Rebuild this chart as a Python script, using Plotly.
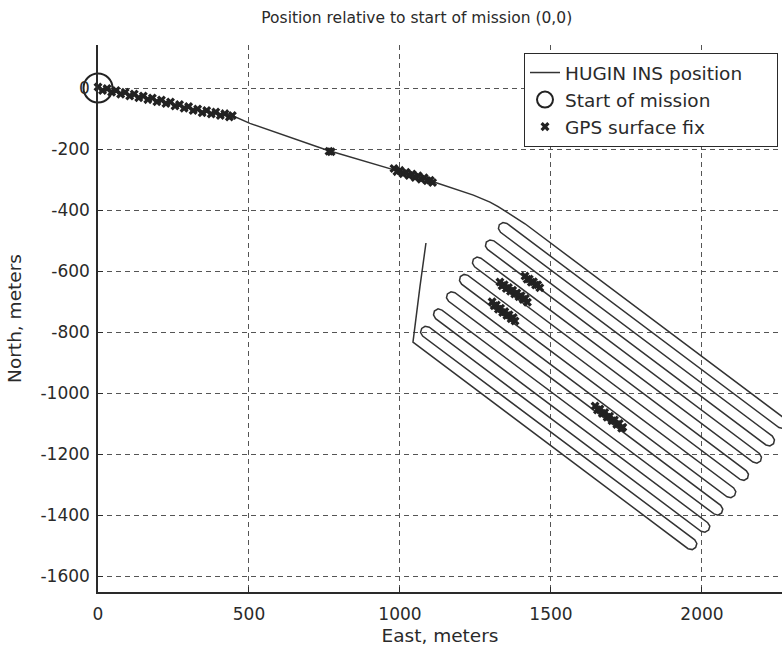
import plotly.graph_objects as go

# ---------------- data (metres) ----------------
title_text = "Position relative to start of mission (0,0)"
x_title = "East, meters"
y_title = "North, meters"

x_ticks = [0, 500, 1000, 1500, 2000]
y_ticks = [0, -200, -400, -600, -800, -1000, -1200, -1400, -1600]

# HUGIN INS track: transit leg, lawn-mower survey lines (with turn points), final leg north
ins_east = [0, 110, 220, 338, 448, 503, 757, 1000, 1110, 1243, 1275, 1298, 1325, 1354, 1385, 1414,
            2276, 2283, 2280, 2268, 2255,
            1354, 1341, 1329, 1326, 1333,
            2233, 2240, 2237, 2225, 2212,
            1311, 1298, 1286, 1283, 1290,
            2190, 2197, 2194, 2182, 2169,
            1268, 1255, 1243, 1240, 1247,
            2147, 2154, 2151, 2139, 2126,
            1225, 1212, 1200, 1197, 1204,
            2105, 2112, 2108, 2096, 2083,
            1182, 1169, 1157, 1154, 1161,
            2062, 2069, 2065, 2053, 2040,
            1139, 1126, 1114, 1111, 1118,
            2019, 2026, 2022, 2010, 1997,
            1097, 1083, 1072, 1068, 1075,
            1976, 1983, 1979, 1968, 1954,
            1043, 1066, 1079, 1086]
ins_north = [0, -22, -45, -75, -92, -116, -203, -274, -307, -351, -363, -374, -389, -407, -427, -445,
             -1085, -1096, -1109, -1116, -1113,
             -444, -441, -448, -461, -473,
             -1141, -1153, -1166, -1173, -1170,
             -501, -498, -505, -518, -529,
             -1198, -1210, -1223, -1230, -1226,
             -558, -554, -561, -574, -586,
             -1255, -1266, -1279, -1286, -1283,
             -614, -611, -618, -631, -643,
             -1311, -1323, -1336, -1343, -1340,
             -671, -668, -675, -688, -699,
             -1368, -1380, -1393, -1400, -1396,
             -728, -724, -731, -744, -756,
             -1425, -1436, -1449, -1456, -1453,
             -784, -781, -788, -801, -813,
             -1481, -1493, -1506, -1513, -1510,
             -833, -652, -564, -508]

start_east = [0]
start_north = [0]

# GPS surface fixes
gps_east = [0, 15, 30, 45, 60, 75, 90, 105, 120, 135, 150, 165, 180, 195, 210, 225,
            240, 255, 270, 285, 300, 315, 330, 345, 360, 375, 390, 405, 420, 435, 445,
            765, 772,
            980, 990, 1000, 1010, 1020, 1030, 1040, 1050, 1060, 1070, 1080, 1090, 1100, 1108,
            1414, 1421, 1428, 1435, 1442, 1449, 1456, 1463,
            1331, 1338, 1345, 1352, 1359, 1366, 1373, 1380, 1387, 1394, 1401, 1408, 1415, 1422,
            1305, 1312, 1319, 1326, 1333, 1340, 1347, 1354, 1361, 1368, 1375, 1381,
            1646, 1654, 1662, 1670, 1678, 1686, 1694, 1702, 1710, 1718, 1726, 1734, 1738]
gps_north = [3, -8, -2, -14, -8, -20, -14, -26, -20, -32, -26, -38, -33, -45, -39, -51,
             -46, -59, -54, -66, -61, -74, -69, -81, -74, -85, -79, -90, -84, -95, -90,
             -207, -209,
             -264, -274, -270, -281, -276, -287, -282, -293, -288, -299, -294, -304, -302, -310,
             -616, -627, -626, -637, -635, -646, -645, -655,
             -636, -648, -645, -657, -654, -666, -663, -675, -672, -684, -681, -693, -690, -702,
             -701, -714, -711, -725, -722, -736, -733, -746, -743, -756, -752, -764,
             -1042, -1055, -1052, -1067, -1064, -1079, -1076, -1091, -1088, -1103, -1100, -1115, -1112]

legend_names = ["HUGIN INS position", "Start of mission", "GPS surface fix"]

# ---------------- figure ----------------
FONT = "DejaVu Sans"
INK = "#2a2a2a"
GRID = "#555555"
PAD = "\u00a0" * 5  # widen legend box toward the right edge, as in the reference

fig = go.Figure()
fig.add_trace(go.Scatter(x=ins_east, y=ins_north, mode="lines",
                         line=dict(color="#333333", width=1.5),
                         name=legend_names[0] + PAD, legendrank=1))
fig.add_trace(go.Scatter(x=gps_east, y=gps_north, mode="markers",
                         marker=dict(symbol="x", size=8, color="#222222", line=dict(width=0)),
                         name=legend_names[2], legendrank=3, cliponaxis=False))
fig.add_trace(go.Scatter(x=start_east, y=start_north, mode="markers",
                         marker=dict(symbol="circle-open", size=29, color="#222222",
                                     line=dict(width=2, color="#222222")),
                         name=legend_names[1], legendrank=2, cliponaxis=False))

axis_common = dict(showgrid=True, gridcolor=GRID, gridwidth=1, griddash="5px,4px",
                   showline=True, linecolor=INK, linewidth=1.5, mirror=False,
                   ticks="inside", ticklen=5, tickcolor=INK, zeroline=False,
                   automargin=False, tickfont=dict(family=FONT, size=17, color=INK))

fig.update_xaxes(range=[0, 2265], tickvals=x_ticks, ticktext=[str(v) for v in x_ticks],
                 ticklabelstandoff=6,
                 title=dict(text=x_title, font=dict(family=FONT, size=18.5, color=INK), standoff=6),
                 **axis_common)
fig.update_yaxes(range=[-1652, 141], tickvals=y_ticks, ticktext=[str(v) for v in y_ticks],
                 ticklabelstandoff=3,
                 title=dict(text=y_title, font=dict(family=FONT, size=18.5, color=INK), standoff=14),
                 **axis_common)

fig.update_layout(
    width=782, height=650,
    margin=dict(l=98, r=0, t=45, b=58),
    paper_bgcolor="white", plot_bgcolor="white",
    font=dict(family=FONT, size=17, color=INK),
    title=dict(text=title_text, xref="paper", x=0.466, xanchor="center",
               yref="container", y=1 - 18 / 650, yanchor="middle",
               font=dict(family=FONT, size=15.5, color=INK)),
    legend=dict(x=(524 - 98) / 684, y=(592 - 53) / 547, xanchor="left", yanchor="top",
                bordercolor=INK, borderwidth=1, bgcolor="white",
                font=dict(family=FONT, size=18.5, color=INK),
                traceorder="normal", tracegroupgap=0),
    showlegend=True,
)

fig.write_html("out.html")
